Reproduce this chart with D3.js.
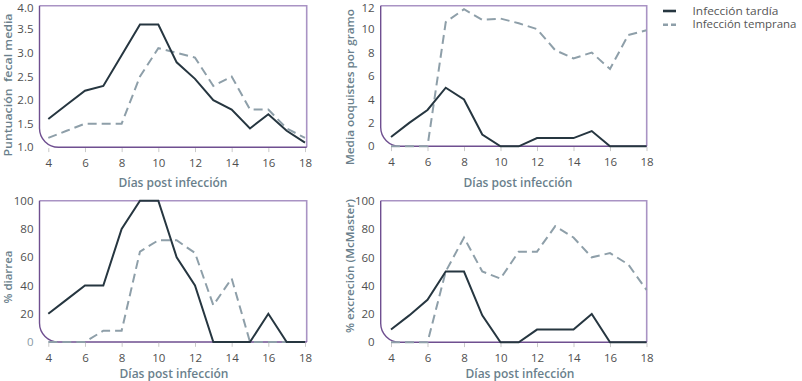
<!DOCTYPE html>
<html><head><meta charset="utf-8">
<script src="https://cdn.jsdelivr.net/npm/d3@7"></script>
<style>
html,body{margin:0;padding:0;background:#fff;}
svg{display:block;font-family:"Open Sans",sans-serif;}
</style></head>
<body><svg id="c" width="802" height="381"></svg>
<script>
const days = [4,5,6,7,8,9,10,11,12,13,14,15,16,17,18];
const xTicks = [4,6,8,10,12,14,16,18];
const seriesNames = ["Infección tardía","Infección temprana"];
const xTitle = "Días post infección";

const fecalTardia   = [1.6,1.9,2.2,2.3,2.95,3.6,3.6,2.8,2.45,2.0,1.8,1.4,1.7,1.35,1.1];
const fecalTemprana = [1.2,1.35,1.5,1.5,1.5,2.5,3.1,3.0,2.9,2.3,2.5,1.8,1.8,1.4,1.2];
const fecalTicks = ["1.0","1.5","2.0","2.5","3.0","3.5","4.0"];

const ooqTardia   = [0.8,2.0,3.1,5.0,4.0,1.0,0,0,0.7,0.7,0.7,1.3,0,0,0];
const ooqTemprana = [0,0,0,10.6,11.7,10.8,10.9,10.5,10.0,8.2,7.5,8.0,6.6,9.5,9.9];
const ooqTicks = [0,2,4,6,8,10,12];

const diaTardia   = [20,30,40,40,80,100,100,60,40,0,0,0,20,0,0];
const diaTemprana = [0,0,0,8,8,64,72,72,63,26,45,0,0,0,0];
const diaTicks = [0,20,40,60,80,100];

const excTardia   = [9,19,30,50,50,19,0,0,9,9,9,20,0,0,0];
const excTemprana = [0,0,0,50,74,50,45,64,64,82,74,60,63,55,37];
const excTicks = [0,20,40,60,80,100];

const svg = d3.select("#c");
const cSolid = "#263640", cDash = "#8e9fa9";
const cFrameA = "#6f4f90", cFrameB = "#a993c4";
const cTick = "#4f4f4f", cTitle = "#6a7f8c";

const panels = [
  {L:39.5,T:5.7,R:306.7,B:147.3,x0:48.3,x1:305,dom:[1,4],ticks:fecalTicks.map(Number),fmt:d3.format(".1f"),
   a:fecalTardia,b:fecalTemprana,ytitle:"Puntuación\u00a0 fecal media",yx:7,yy:85,ylen:143,xtx:173,xty:182},
  {L:380.7,T:5.7,R:646.7,B:146.3,x0:391,x1:646.5,dom:[0,12],ticks:ooqTicks,fmt:d3.format("d"),
   a:ooqTardia,b:ooqTemprana,ytitle:"Media ooquistes por gramo",yx:349,yy:87,ylen:156,xtx:518,xty:182},
  {L:39.5,T:200.7,R:306.7,B:342,x0:48.3,x1:305,dom:[0,100],ticks:diaTicks,fmt:d3.format("d"),
   a:diaTardia,b:diaTemprana,ytitle:"% diarrea",yx:7,yy:277,ylen:53,xtx:174,xty:373,lightZero:true},
  {L:380.7,T:200.7,R:646.7,B:342.3,x0:391,x1:646.5,dom:[0,100],ticks:excTicks,fmt:d3.format("d"),
   a:excTardia,b:excTemprana,ytitle:"% excreción (McMaster)",yx:349,yy:266,ylen:134,xtx:520,xty:373}
];

panels.forEach(p => {
  const g = svg.append("g");
  const x = d3.scaleLinear().domain([4,18]).range([p.x0,p.x1]);
  const y = d3.scaleLinear().domain(p.dom).range([p.B,p.T]);
  const r = 19;
  // frame
  g.append("path").attr("d",`M${p.L},${p.T}H${p.R}V${p.B}`)
    .attr("fill","none").attr("stroke",cFrameB).attr("stroke-width",1.6);
  g.append("path").attr("d",`M${p.L},${p.T}V${p.B-r}A${r},${r} 0 0 0 ${p.L+r},${p.B}H${p.R}`)
    .attr("fill","none").attr("stroke",cFrameA).attr("stroke-width",1.4);
  // x axis ticks & labels
  const xa = d3.axisBottom(x).tickValues(xTicks).tickSize(4).tickPadding(7).tickFormat(d3.format("d"));
  const xg = g.append("g").attr("transform",`translate(0,${p.B+0.8})`).call(xa);
  xg.select(".domain").remove();
  xg.selectAll(".tick line").attr("stroke","#c9c9c9");
  xg.selectAll(".tick text").attr("fill",cTick).style("font-size","11.5px").style("font-family","Open Sans");
  // y axis labels
  const ya = d3.axisLeft(y).tickValues(p.ticks).tickSize(0).tickPadding(6).tickFormat(p.fmt);
  const yg = g.append("g").attr("transform",`translate(${p.L},0)`).call(ya);
  yg.select(".domain").remove();
  yg.selectAll(".tick text").attr("fill",cTick).style("font-size","11.5px").style("font-family","Open Sans");
  if (p.T < 50) yg.selectAll(".tick text").filter(d=>d===p.dom[1]).attr("dy","0.5em");
  if (p.lightZero) yg.selectAll(".tick text").filter(d=>d===0).attr("fill","#8a9aa4");
  // titles
  g.append("text").attr("x",p.xtx).attr("y",p.xty).attr("text-anchor","middle")
    .attr("dominant-baseline","central").attr("fill",cTitle)
    .style("font-size","12px").style("font-weight","600").text(xTitle);
  g.append("text").attr("transform",`translate(${p.yx},${p.yy}) rotate(-90)`).attr("text-anchor","middle")
    .attr("dominant-baseline","central").attr("fill",cTitle)
    .attr("textLength",p.ylen).attr("lengthAdjust","spacingAndGlyphs")
    .style("font-size","11.5px").style("font-weight","600").text(p.ytitle);
  // lines
  const line = d3.line().x((d,i)=>x(days[i])).y(d=>y(d));
  g.append("path").datum(p.b).attr("d",line).attr("fill","none").attr("stroke",cDash)
    .attr("stroke-width",2).attr("stroke-dasharray","9,5");
  g.append("path").datum(p.a).attr("d",line).attr("fill","none").attr("stroke",cSolid)
    .attr("stroke-width",2);
});

// legend
const legY = [10.5, 24.3];
const legLen = [86, 104];
const lg = svg.append("g");
lg.append("line").attr("x1",663).attr("x2",676).attr("y1",legY[0]+0.5).attr("y2",legY[0]+0.5)
  .attr("stroke",cSolid).attr("stroke-width",2.6);
lg.append("line").attr("x1",663).attr("x2",676).attr("y1",legY[1]+0.5).attr("y2",legY[1]+0.5)
  .attr("stroke",cDash).attr("stroke-width",2.6).attr("stroke-dasharray","5,3");
lg.selectAll("text.l").data(seriesNames).join("text").attr("class","l")
  .attr("x",692.5).attr("y",(d,i)=>legY[i]).attr("dominant-baseline","central")
  .attr("textLength",(d,i)=>legLen[i]).attr("lengthAdjust","spacingAndGlyphs")
  .attr("fill","#555").style("font-size","10.5px").text(d=>d);
</script></body></html>
